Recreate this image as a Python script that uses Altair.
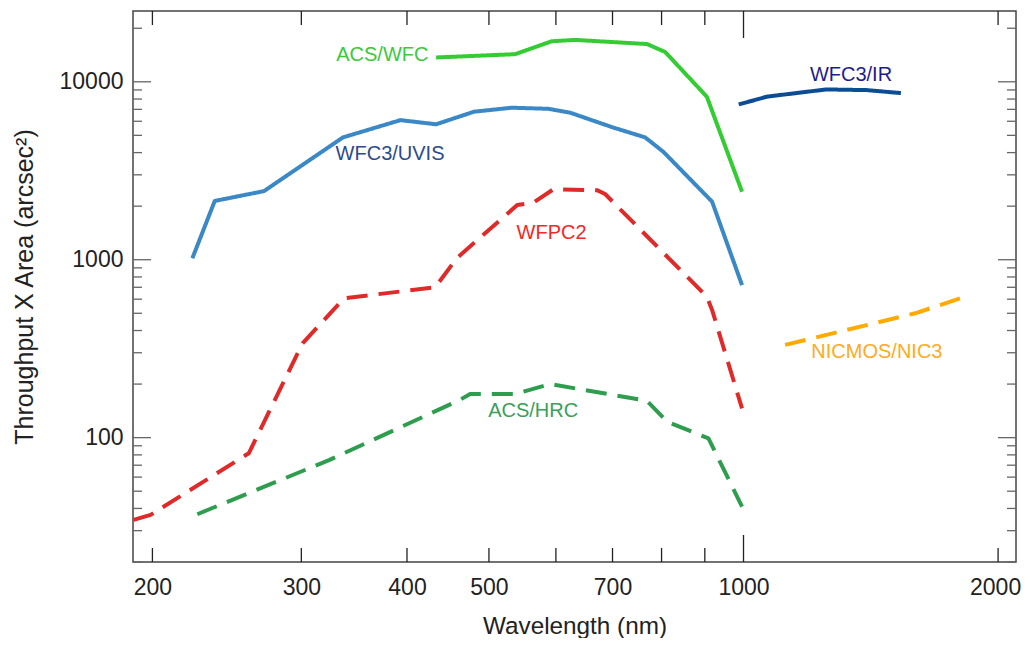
import altair as alt
import pandas as pd

# ---------------- data ----------------
series_names = ["ACS/WFC", "WFC3/UVIS", "WFC3/IR", "WFPC2", "ACS/HRC", "NICMOS/NIC3"]

wfc_wl = [433, 537, 593, 632, 769, 808, 905, 996]
wfc_val = [13700, 14300, 16900, 17200, 16300, 14700, 8240, 2410]

uvis_wl = [223, 237, 271, 336, 393, 433, 480, 532, 588, 624, 700, 765, 804, 918, 996]
uvis_val = [1020, 2140, 2430, 4870, 6090, 5770, 6790, 7150, 7050, 6700, 5550, 4870, 4040, 2120, 720]

ir_wl = [987, 1067, 1253, 1400, 1535]
ir_val = [7460, 8260, 9060, 8980, 8640]

wfpc2_wl = [190, 199, 260, 301, 337, 432, 458, 540, 564, 596, 671, 686, 905, 918, 996]
wfpc2_val = [34.5, 36.8, 81.7, 339, 607, 700, 1020, 2030, 2090, 2490, 2460, 2340, 620, 522, 146]

hrc_wl = [226, 324, 462, 475, 537, 591, 769, 812, 909, 996]
hrc_val = [37.1, 75, 163, 176, 176, 200, 161, 123, 99, 41]

nic3_wl = [1120, 1596, 1804]
nic3_val = [332, 500, 607]

label_text = ["ACS/WFC", "WFC3/UVIS", "WFC3/IR", "WFPC2", "ACS/HRC", "NICMOS/NIC3"]
label_wl = [374, 382, 1340, 593, 564, 1438]
label_val = [14100, 3910, 10900, 1420, 142, 304]

x_label_values = [200, 300, 400, 500, 700, 1000, 2000]
y_label_values = [100, 1000, 10000]
x_minor_ticks = [200, 300, 400, 500, 600, 700, 800, 900, 2000]
x_major_ticks = [1000]
y_minor_ticks = [20, 30, 40, 50, 60, 70, 80, 90,
                 200, 300, 400, 500, 600, 700, 800, 900,
                 2000, 3000, 4000, 5000, 6000, 7000, 8000, 9000, 20000]
y_major_ticks = [100, 1000, 10000]

# ---------------- styles ----------------
line_colors = ["#33cc33", "#3a88c5", "#0b4c94", "#e02a2a", "#2e9e4e", "#ffaa00"]
dash_patterns = [[1, 0], [1, 0], [1, 0], [21, 11], [21, 11], [21, 11]]
label_colors = ["#3cc83c", "#2b4b8c", "#1c1c8c", "#f02828", "#3aa05a", "#ffaa22"]
FONT = "Liberation Sans"
W, H = 883, 551

all_wl = [wfc_wl, uvis_wl, ir_wl, wfpc2_wl, hrc_wl, nic3_wl]
all_val = [wfc_val, uvis_val, ir_val, wfpc2_val, hrc_val, nic3_val]
rows = []
for name, wls, vals in zip(series_names, all_wl, all_val):
    for i, (w, v) in enumerate(zip(wls, vals)):
        rows.append({"series": name, "wl": w, "val": v, "i": i})
df = pd.DataFrame(rows)

x_scale = alt.Scale(type="log", domain=[189.7, 2100], nice=False)
y_scale = alt.Scale(type="log", domain=[20, 25000], nice=False)

x_axis = alt.Axis(values=x_label_values, format="d", ticks=False, tickSize=0,
                  domain=False, grid=False, labelFontSize=23, labelFont=FONT,
                  labelColor="#222", labelPadding=14, labelFlush=False,
                  labelOverlap=False,
                  labelOffset={"condition": {"test": "datum.value == 2000", "value": -3},
                               "value": 0},
                  title="Wavelength (nm)", titleFont=FONT, titleFontSize=24.3,
                  titleFontWeight="normal", titleColor="#222",
                  titleX=W / 2, titleY=71, titleAlign="center",
                  titleBaseline="alphabetic")
y_axis = alt.Axis(values=y_label_values, format="d", ticks=False, tickSize=0,
                  domain=False, grid=False, labelFontSize=23, labelFont=FONT,
                  labelColor="#222", labelPadding=10, labelFlush=False,
                  labelOverlap=False,
                  title="Throughput X Area (arcsec²)", titleFont=FONT,
                  titleFontSize=25, titleFontWeight="normal", titleColor="#222",
                  titleAngle=270, titleX=-101, titleY=H / 2, titleAlign="center",
                  titleBaseline="alphabetic")

lines = alt.Chart(df).mark_line(
    strokeWidth=4, strokeCap="butt", strokeJoin="round", clip=True
).encode(
    x=alt.X("wl:Q", scale=x_scale, axis=x_axis),
    y=alt.Y("val:Q", scale=y_scale, axis=y_axis),
    color=alt.Color("series:N", scale=alt.Scale(domain=series_names, range=line_colors),
                    legend=None),
    strokeDash=alt.StrokeDash("series:N",
                              scale=alt.Scale(domain=series_names, range=dash_patterns),
                              legend=None),
    order=alt.Order("i:Q"),
)

def ytick_layer(vals, x0, x1):
    return alt.Chart(pd.DataFrame({"val": vals})).mark_rule(color="#666", strokeWidth=1.3).encode(
        y=alt.Y("val:Q", scale=y_scale, axis=y_axis), x=alt.value(x0), x2=alt.value(x1))

def xtick_layer(vals, y0, y1):
    return alt.Chart(pd.DataFrame({"wl": vals})).mark_rule(color="#222", strokeWidth=1.3).encode(
        x=alt.X("wl:Q", scale=x_scale, axis=x_axis), y=alt.value(y0), y2=alt.value(y1))

ticks = [
    ytick_layer(y_minor_ticks, 0, 9),
    ytick_layer(y_major_ticks, 0, 18),
    ytick_layer(y_minor_ticks, W - 9, W),
    ytick_layer(y_major_ticks, W - 18, W),
    xtick_layer(x_minor_ticks, H, H - 14),
    xtick_layer(x_major_ticks, H, H - 27),
    xtick_layer(x_minor_ticks, 0, 14),
    xtick_layer(x_major_ticks, 0, 27),
]

labels = alt.Chart(pd.DataFrame({"label": label_text, "wl": label_wl, "val": label_val})).mark_text(
    fontSize=20, font=FONT, baseline="middle", align="center"
).encode(
    x=alt.X("wl:Q", scale=x_scale, axis=x_axis),
    y=alt.Y("val:Q", scale=y_scale, axis=y_axis),
    text="label:N",
    color=alt.Color("label:N", scale=alt.Scale(domain=label_text, range=label_colors),
                    legend=None),
)

chart = alt.layer(lines, *ticks, labels).resolve_scale(
    color="independent"
).properties(
    width=W, height=H,
    autosize=alt.AutoSizeParams(type="none"),
    padding={"left": 125, "top": 3, "right": 6, "bottom": 76},
    background="white",
).configure_view(stroke="#444", strokeWidth=1.5)

chart.save("out.html", embed_options={"renderer": "svg", "actions": False})
